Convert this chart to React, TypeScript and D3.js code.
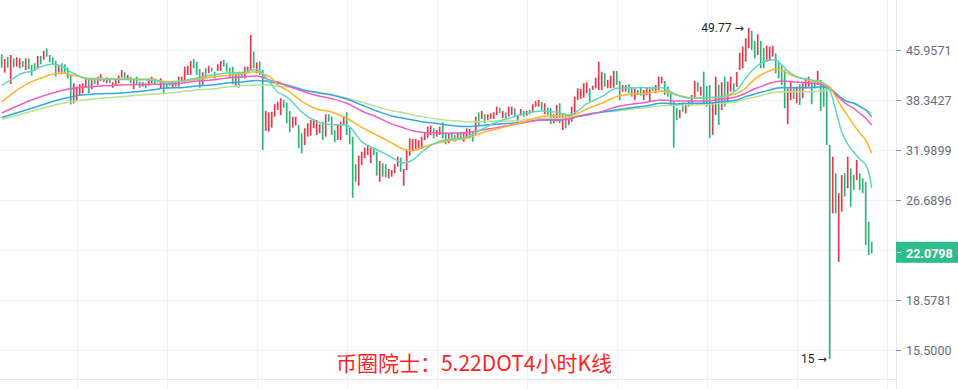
import React, { useEffect, useRef } from "react";
import * as d3 from "d3";

// 4h candles (high / low, and whether the candle closed up)
const highs = [
  45.25, 44.48, 44.85, 45.13, 44.59, 44.75, 44.59, 44.16, 44.59, 44.59,
  43.53, 43.8, 44.97, 44.97, 45.79, 46.24, 45.13, 44.75, 44.16, 43.42,
  43.8, 43.64, 43.1, 41.98, 40.74, 40.24, 40.59, 40.74, 41.48, 41.23,
  41.48, 41.23, 41.72, 42.09, 41.48, 41.63, 41.38, 40.89, 41.23, 41.87,
  42.75, 42.39, 41.98, 41.72, 41.48, 41.72, 40.98, 40.89, 40.74, 41.48,
  41.72, 41.48, 41.23, 41.48, 40.89, 40.74, 40.98, 40.74, 40.89, 41.72,
  41.72, 43.26, 43.42, 44.16, 44.48, 44.05, 42.91, 42.39, 43.01, 43.42,
  43.1, 42.49, 43.64, 44.16, 44.32, 43.8, 43.1, 43.26, 41.98, 42.49,
  42.24, 43.26, 43.26, 48.53, 45.68, 43.95, 44.05, 42.75, 36.85, 36.67,
  36.75, 37.76, 38.1, 38.58, 38.34, 37.99, 36.85, 36.1, 36.1, 35.03,
  33.99, 34.61, 35.24, 35.67, 35.8, 35.67, 35.12, 35.45, 36.41, 36.41,
  36.1, 34.4, 35.12, 35.45, 36.1, 36.67, 34.69, 33.57, 30.38, 31.34,
  31.79, 32.26, 32.5, 32.26, 32.19, 31.79, 30.74, 30.49, 30.38, 29.86,
  29.75, 30.38, 31.23, 31.12, 29.86, 31.99, 33.37, 33.29, 33.29, 33.17,
  33.57, 34.11, 34.82, 34.95, 34.61, 34.4, 34.82, 35.37, 34.11, 33.99,
  34.11, 33.78, 34.11, 34.19, 34.11, 34.61, 34.53, 34.28, 36.1, 36.67,
  36.85, 36.41, 36.41, 36.54, 36.67, 37.43, 37.29, 36.85, 36.67, 37.43,
  37.43, 37.21, 36.32, 37.11, 36.85, 36.85, 36.98, 37.76, 38.2, 38.34,
  38.1, 37.89, 37.29, 37.21, 36.41, 37.66, 37.89, 36.54, 36.32, 36.41,
  37.43, 38.81, 40.0, 39.9, 40.74, 40.89, 40.0, 40.39, 41.57, 44.05,
  42.49, 42.24, 41.23, 41.87, 42.6, 42.6, 41.08, 40.49, 40.49, 40.59,
  40.09, 40.0, 39.76, 40.24, 39.76, 40.09, 40.0, 40.24, 40.49, 41.72,
  41.72, 41.08, 40.24, 39.52, 38.2, 37.21, 36.98, 37.99, 37.66, 38.34,
  39.05, 41.08, 40.89, 40.24, 42.49, 40.34, 40.49, 38.06, 41.72, 40.49,
  40.89, 41.72, 40.98, 41.72, 40.74, 42.44, 45.5, 46.52, 47.95, 49.77,
  49.23, 47.49, 48.65, 47.49, 46.35, 46.68, 46.52, 46.68, 45.41, 44.05,
  43.53, 42.75, 40.0, 40.89, 40.0, 40.24, 40.59, 40.74, 41.57, 41.72,
  41.08, 40.98, 42.6, 41.23, 40.49, 40.24, 32.58, 31.23, 29.4, 27.35,
  29.22, 29.4, 31.23, 29.93, 29.22, 30.85, 29.4, 28.87, 28.51, 24.67, 22.95,
];

const lows = [
  43.1, 42.33, 43.1, 40.63, 43.17, 43.26, 43.01, 43.17, 42.75, 42.86,
  41.87, 42.6, 42.86, 43.64, 44.37, 44.85, 43.95, 43.53, 41.72, 42.33,
  42.24, 42.24, 41.48, 37.74, 37.88, 38.2, 39.05, 39.28, 40.09, 39.28,
  39.86, 40.59, 40.49, 41.08, 40.89, 40.74, 40.74, 40.09, 40.49, 40.74,
  41.57, 41.23, 41.23, 40.74, 39.9, 40.59, 40.09, 40.24, 40.0, 40.39,
  40.74, 40.59, 40.89, 40.0, 39.28, 40.0, 40.39, 40.0, 40.24, 40.24,
  40.89, 40.98, 41.98, 41.98, 43.01, 41.98, 40.09, 40.49, 41.48, 42.24,
  42.49, 41.48, 42.6, 42.6, 43.26, 42.49, 41.48, 40.59, 40.24, 40.09,
  41.57, 41.48, 42.24, 42.75, 43.01, 42.24, 41.98, 31.99, 34.28, 34.19,
  34.69, 36.1, 36.98, 36.32, 37.29, 35.24, 34.11, 34.69, 34.95, 32.19,
  31.61, 32.58, 33.57, 33.7, 34.61, 33.78, 33.99, 33.17, 33.57, 35.45,
  33.78, 32.9, 33.17, 33.17, 35.03, 33.78, 32.66, 26.91, 28.51, 28.11,
  30.3, 31.04, 31.42, 30.49, 31.42, 29.15, 28.51, 29.04, 28.94, 28.87,
  29.04, 29.4, 30.11, 29.57, 28.11, 29.75, 31.34, 31.88, 32.1, 32.19,
  32.1, 33.17, 33.45, 33.78, 33.37, 33.57, 33.78, 33.37, 32.66, 32.78,
  33.05, 32.97, 33.17, 33.17, 32.97, 33.37, 33.37, 32.97, 33.78, 35.03,
  35.8, 35.24, 35.67, 35.8, 35.8, 36.32, 36.54, 35.89, 35.89, 36.1,
  36.32, 36.1, 35.45, 36.23, 36.1, 36.23, 36.41, 36.67, 37.43, 37.43,
  36.98, 36.41, 36.32, 35.12, 35.24, 35.45, 35.24, 34.4, 34.61, 35.03,
  35.45, 36.32, 38.34, 38.48, 38.67, 39.28, 38.1, 39.76, 40.0, 39.76,
  39.76, 40.24, 40.0, 40.0, 40.09, 40.49, 38.34, 39.52, 39.52, 39.28,
  38.81, 38.34, 39.05, 38.95, 38.34, 39.05, 38.2, 39.62, 39.28, 39.76,
  40.74, 39.05, 38.81, 37.51, 32.26, 35.67, 35.89, 36.75, 36.54, 37.43,
  37.66, 38.48, 39.52, 38.95, 37.89, 37.43, 33.41, 33.78, 36.32, 35.03,
  36.98, 37.43, 38.1, 39.52, 39.52, 40.2, 42.75, 43.01, 44.05, 46.24,
  45.96, 44.59, 45.13, 43.01, 43.01, 44.05, 44.16, 44.85, 42.24, 41.48,
  40.49, 37.21, 35.12, 38.34, 38.48, 37.89, 37.66, 38.58, 40.0, 40.24,
  37.76, 40.0, 40.49, 36.85, 37.43, 32.58, 15.0, 25.43, 25.43, 21.33,
  25.58, 27.02, 27.85, 26.06, 27.67, 28.69, 27.67, 27.35, 22.67, 21.87, 21.98,
];

// 1 = closed higher (red), 0 = closed lower (green)
const ups = [
  0, 1, 0, 1, 0, 1, 1, 0, 1, 0,
  0, 0, 1, 0, 1, 0, 0, 0, 0, 1,
  0, 0, 0, 0, 1, 1, 1, 1, 1, 0,
  1, 0, 1, 1, 0, 1, 0, 1, 1, 1,
  1, 0, 1, 0, 1, 0, 0, 1, 0, 1,
  1, 0, 0, 1, 0, 0, 0, 1, 0, 1,
  1, 1, 1, 1, 0, 0, 0, 1, 0, 1,
  0, 0, 1, 1, 0, 0, 0, 0, 1, 0,
  0, 1, 1, 1, 0, 1, 0, 0, 1, 1,
  1, 1, 1, 1, 0, 0, 0, 1, 1, 0,
  0, 1, 1, 1, 1, 1, 1, 0, 1, 0,
  0, 0, 1, 1, 1, 0, 0, 0, 0, 1,
  1, 1, 1, 1, 0, 0, 1, 0, 0, 1,
  1, 1, 1, 0, 1, 1, 1, 1, 1, 1,
  1, 1, 1, 1, 0, 1, 1, 0, 0, 1,
  0, 0, 1, 0, 1, 1, 1, 0, 1, 0,
  1, 0, 1, 1, 1, 1, 0, 1, 0, 1,
  1, 0, 1, 1, 0, 1, 0, 1, 1, 1,
  0, 1, 0, 0, 1, 1, 0, 1, 0, 1,
  1, 1, 1, 1, 1, 1, 0, 1, 1, 1,
  1, 0, 1, 1, 1, 0, 0, 1, 1, 0,
  0, 1, 0, 0, 1, 1, 1, 0, 1, 1,
  1, 0, 0, 0, 0, 0, 1, 0, 1, 0,
  1, 1, 0, 1, 0, 0, 0, 1, 1, 0,
  1, 0, 1, 1, 0, 1, 1, 1, 1, 1,
  0, 0, 1, 0, 0, 1, 1, 1, 0, 0,
  0, 0, 1, 1, 0, 1, 0, 1, 1, 1,
  0, 0, 1, 0, 0, 0, 0, 1, 0, 1,
  1, 0, 1, 0, 0, 1, 0, 0, 0, 0, 0,
];

// moving averages, [candle index, price]
const maFast: [number, number][] = [
  [0, 40.42], [3, 41.23], [6, 42.09], [10, 42.6], [13, 43.26], [17, 43.64], [20, 43.37],
  [23, 42.44], [25, 41.98], [29, 41.33], [40, 41.3], [50, 41.23], [55, 40.79], [60, 41.08],
  [65, 41.53], [70, 41.98], [75, 42.29], [80, 42.37], [85, 42.83], [88, 41.68], [90, 40.49],
  [92, 39.48], [95, 38.77], [100, 36.72], [105, 35.45], [110, 35.09], [115, 35.03],
  [120, 32.97], [125, 32.05], [130, 31.14], [134, 30.52], [137, 30.85], [140, 31.76],
  [145, 32.88], [150, 33.29], [155, 33.54], [160, 34.46], [165, 35.41], [170, 36.0],
  [175, 36.58], [180, 36.85], [185, 36.68], [189, 36.32], [192, 36.85], [195, 37.8],
  [200, 38.81], [205, 40.01], [210, 40.1], [215, 40.1], [220, 40.1], [225, 39.05],
  [230, 38.58], [235, 38.67], [240, 38.81], [245, 39.76], [248, 41.49], [250, 42.6],
  [253, 43.8], [256, 44.32], [258, 44.32], [260, 43.53], [263, 42.24], [266, 41.57],
  [270, 41.23], [273, 40.98], [275, 40.24], [276, 39.76], [278, 36.98], [280, 34.15],
  [282, 32.7], [284, 31.76], [286, 30.96], [288, 30.3], [289, 29.54], [290, 27.87],
];

const maOrange: [number, number][] = [
  [0, 38.11], [3, 39.05], [6, 40.01], [10, 40.98], [13, 41.49], [17, 42.09], [21, 42.24],
  [23, 41.98], [26, 41.72], [29, 41.49], [40, 41.38], [50, 41.33], [55, 40.98], [60, 41.08],
  [65, 41.3], [70, 41.68], [75, 41.9], [80, 42.18], [85, 42.49], [88, 41.98], [90, 41.49],
  [92, 40.49], [95, 39.76], [100, 38.2], [105, 37.12], [110, 36.72], [115, 35.89],
  [120, 34.72], [125, 33.78], [130, 32.82], [134, 32.07], [137, 31.91], [140, 32.26],
  [145, 32.78], [150, 33.11], [155, 33.37], [160, 34.03], [165, 34.53], [170, 35.03],
  [175, 35.54], [180, 36.12], [185, 36.23], [189, 36.23], [192, 36.54], [195, 37.12],
  [200, 37.89], [205, 38.81], [210, 39.15], [215, 39.29], [220, 39.62], [225, 39.05],
  [230, 38.67], [235, 38.67], [240, 38.81], [245, 39.29], [248, 40.01], [250, 40.98],
  [253, 41.98], [256, 42.6], [258, 42.91], [260, 42.75], [263, 41.98], [266, 41.57],
  [270, 41.08], [273, 40.89], [275, 40.49], [276, 40.2], [278, 38.81], [280, 37.39],
  [282, 36.19], [284, 35.03], [286, 34.03], [288, 33.17], [290, 31.61],
];

const maIndex = [
  0, 10, 20, 25, 30, 40, 50, 55, 60, 65,
  70, 75, 80, 85, 88, 90, 92, 95, 100, 105,
  110, 115, 120, 125, 130, 134, 137, 140, 145, 150,
  155, 160, 165, 170, 175, 180, 185, 189, 192, 195,
  200, 205, 210, 215, 220, 225, 230, 235, 240, 245,
  248, 250, 253, 256, 258, 260, 263, 266, 270, 273,
  275, 276, 278, 280, 282, 284, 286, 288, 290,
];

const maPink = [
  36.58, 38.34, 39.69, 40.1, 40.24, 40.49, 40.59, 40.64, 40.74, 41.08,
  41.23, 41.53, 41.68, 41.83, 41.45, 41.16, 40.93, 40.39, 39.62, 38.98,
  38.52, 37.89, 36.85, 36.06, 35.16, 34.65, 34.31, 34.11, 34.03, 33.99,
  34.05, 34.4, 34.69, 35.03, 35.38, 35.67, 35.67, 35.8, 36.1, 36.41,
  36.76, 37.43, 37.76, 38.03, 38.34, 38.2, 38.2, 38.2, 38.48, 38.81,
  39.29, 39.76, 40.24, 40.74, 40.98, 41.08, 40.98, 40.89, 40.74, 40.59,
  40.24, 40.05, 39.05, 38.34, 37.66, 37.21, 36.54, 35.89, 35.03,
];

const maBlue = [
  35.99, 37.21, 38.48, 38.95, 39.15, 39.33, 39.76, 40.05, 40.1, 40.34,
  40.49, 40.79, 40.93, 41.16, 41.08, 40.89, 40.74, 40.49, 39.83, 39.41,
  39.05, 38.48, 37.66, 36.85, 36.19, 35.89, 35.67, 35.45, 35.22, 34.97,
  34.82, 34.97, 35.12, 35.25, 35.45, 35.67, 35.67, 35.8, 36.1, 36.32,
  36.68, 36.98, 37.29, 37.56, 37.89, 37.8, 37.89, 37.89, 38.11, 38.34,
  38.81, 39.05, 39.43, 39.76, 40.01, 40.1, 40.1, 40.1, 40.1, 40.24,
  40.1, 40.01, 39.29, 38.58, 38.11, 37.89, 37.43, 36.98, 36.1,
];

const maLime = [
  35.74, 36.81, 37.86, 38.2, 38.48, 38.81, 39.15, 39.29, 39.52, 39.76,
  39.91, 40.2, 40.39, 40.49, 40.49, 40.49, 40.27, 40.24, 39.76, 39.43,
  39.12, 38.58, 38.07, 37.43, 36.89, 36.62, 36.32, 36.1, 35.8, 35.58,
  35.45, 35.45, 35.54, 35.54, 35.71, 35.89, 35.89, 35.97, 36.23, 36.32,
  36.68, 36.85, 37.12, 37.29, 37.56, 37.66, 37.66, 37.75, 37.89, 38.11,
  38.48, 38.67, 38.95, 39.29, 39.43, 39.52, 39.52, 39.52, 39.52, 39.62,
  39.76, 39.76, 39.29, 38.58, 38.11, 37.98, 37.52, 37.07, 36.54,
];

const tickValues = [45.9571, 38.3427, 31.9899, 26.6896, 18.5781, 15.5];
const gridValues = [45.9571, 38.3427, 31.9899, 26.6896, 22.2675, 18.5781, 15.5];
const gridCandles = [25, 55, 85, 115, 145, 175, 205, 235, 265, 295];
const lastPrice = 22.0798;
const highMark = { index: 249, price: 49.77 };
const lowMark = { index: 276, price: 15 };
const title = "币圈院士：5.22DOT4小时K线";

export default function App() {
  const svgRef = useRef<SVGSVGElement | null>(null);

  useEffect(() => {
    const width = 958;
    const height = 389;
    const axisX = 896;

    const svg = d3.select(svgRef.current);
    svg.selectAll("*").remove();

    const x = d3.scaleLinear().domain([0, 290]).range([1.7, 871.7]);
    const y = d3.scaleLog().domain([15.5, 45.9571]).range([350, 50]);

    svg.append("rect").attr("width", width).attr("height", height).attr("fill", "#fff");

    // grid
    const grid = svg.append("g").attr("shape-rendering", "crispEdges");
    grid.selectAll(".hg")
      .data(gridValues)
      .enter()
      .append("line")
      .attr("x1", 0)
      .attr("x2", axisX)
      .attr("y1", d => Math.round(y(d)) + 0.5)
      .attr("y2", d => Math.round(y(d)) + 0.5)
      .attr("stroke", "#f0f3fa");
    grid.selectAll(".vg")
      .data(gridCandles)
      .enter()
      .append("line")
      .attr("x1", d => Math.round(x(d)) + 0.5)
      .attr("x2", d => Math.round(x(d)) + 0.5)
      .attr("y1", 0)
      .attr("y2", height)
      .attr("stroke", "#f0f3fa");
    grid.append("line")
      .attr("x1", 0).attr("x2", axisX)
      .attr("y1", 379.5).attr("y2", 379.5)
      .attr("stroke", "#e6e9f0");
    grid.append("line")
      .attr("x1", axisX + 0.5).attr("x2", axisX + 0.5)
      .attr("y1", 0).attr("y2", height)
      .attr("stroke", "#e6e9f0");

    // candles
    const idx = d3.range(highs.length);
    svg.append("g")
      .selectAll("rect")
      .data(idx)
      .enter()
      .append("rect")
      .attr("x", i => x(i) - 0.85)
      .attr("width", 1.7)
      .attr("y", i => y(highs[i]))
      .attr("height", i => Math.max(1, y(lows[i]) - y(highs[i])))
      .attr("fill", i => (ups[i] ? "#e5394b" : "#2fb27c"));

    // moving averages
    const line = d3
      .line<[number, number]>()
      .x(d => x(d[0]))
      .y(d => y(d[1]))
      .curve(d3.curveMonotoneX);

    const zip = (vals: number[]) => maIndex.map((i, k) => [i, vals[k]] as [number, number]);
    const mas: { data: [number, number][]; color: string }[] = [
      { data: zip(maLime), color: "#b7e28f" },
      { data: zip(maBlue), color: "#34a6e6" },
      { data: zip(maPink), color: "#ee5fc0" },
      { data: maOrange, color: "#fdb52a" },
      { data: maFast, color: "#5ed8bd" },
    ];
    svg.append("g")
      .selectAll("path")
      .data(mas)
      .enter()
      .append("path")
      .attr("d", d => line(d.data))
      .attr("fill", "none")
      .attr("stroke", d => d.color)
      .attr("stroke-width", 1.5);

    // high / low markers
    const marker = (m: { index: number; price: number }, dx: number) => {
      const t = svg.append("text")
        .attr("x", x(m.index) - dx)
        .attr("y", y(m.price) + 4)
        .attr("text-anchor", "end")
        .attr("font-family", "Roboto, sans-serif")
        .attr("font-size", 12)
        .attr("fill", "#222");
      t.append("tspan").text(`${m.price} `);
      t.append("tspan").attr("font-family", "'DejaVu Sans', sans-serif").attr("font-size", 11).text("→");
    };
    marker(highMark, 5);
    marker(lowMark, 3);

    // right axis
    const axis = svg.append("g");
    axis.selectAll("line")
      .data(tickValues)
      .enter()
      .append("line")
      .attr("x1", axisX)
      .attr("x2", axisX + 5)
      .attr("y1", d => Math.round(y(d)) + 0.5)
      .attr("y2", d => Math.round(y(d)) + 0.5)
      .attr("stroke", "#8b909c");
    axis.selectAll("text")
      .data(tickValues)
      .enter()
      .append("text")
      .attr("x", axisX + 10)
      .attr("y", d => y(d) + 1)
      .attr("dy", "0.35em")
      .attr("font-family", "Roboto, sans-serif")
      .attr("font-size", 12.5)
      .attr("fill", "#656d7d")
      .text(d => d.toFixed(4));

    // last price tag
    const ly = y(lastPrice);
    svg.append("rect")
      .attr("x", axisX)
      .attr("y", ly - 10.5)
      .attr("width", width - axisX)
      .attr("height", 21)
      .attr("fill", "#2fbd8c");
    svg.append("line")
      .attr("x1", axisX + 1).attr("x2", axisX + 5)
      .attr("y1", Math.round(ly) + 0.5).attr("y2", Math.round(ly) + 0.5)
      .attr("stroke", "#fff");
    svg.append("text")
      .attr("x", axisX + 10)
      .attr("y", ly + 1)
      .attr("dy", "0.35em")
      .attr("font-family", "Roboto, sans-serif")
      .attr("font-size", 12.5)
      .attr("font-weight", "bold")
      .attr("fill", "#fff")
      .text(lastPrice.toFixed(4));

    // caption
    svg.append("text")
      .attr("x", 474)
      .attr("y", 371)
      .attr("text-anchor", "middle")
      .attr("font-family", "'Noto Sans CJK SC', sans-serif")
      .attr("font-size", 21)
      .attr("fill", "#ff1f1f")
      .text(title);
  }, []);

  return (
    <svg
      ref={svgRef}
      width={958}
      height={389}
      style={{ position: "absolute", left: 0, top: 0, display: "block" }}
    />
  );
}
